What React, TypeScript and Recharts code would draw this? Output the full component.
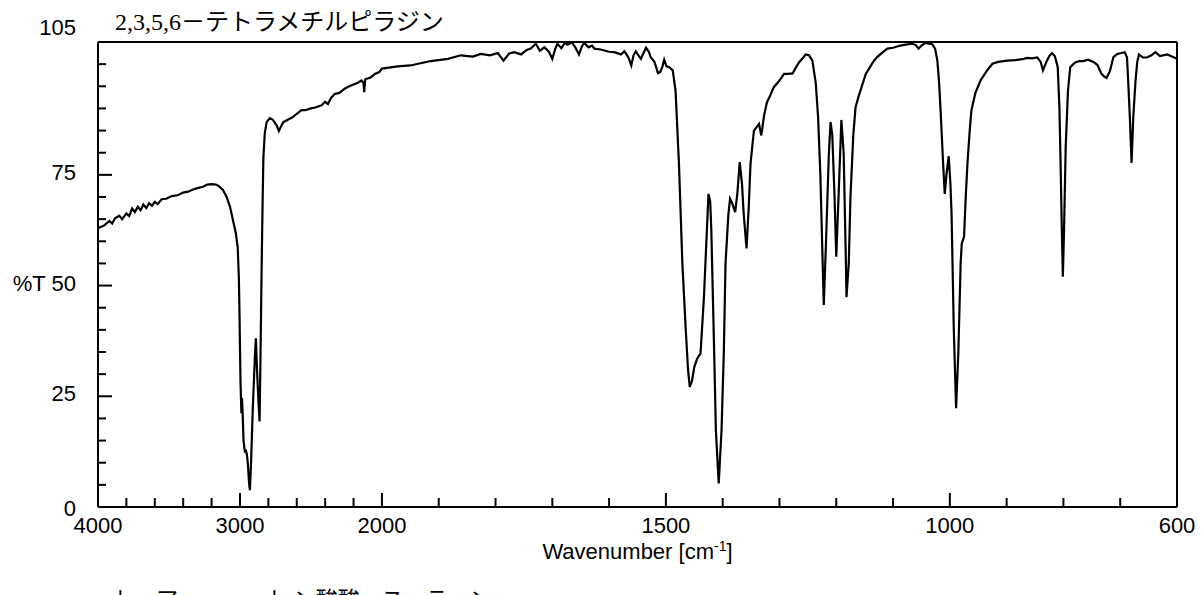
import React from "react";
import { LineChart, Line, XAxis, YAxis, ReferenceLine } from "recharts";

// 4000-2000 cm-1 (compressed part of the axis)
const wnHigh = [
  4000, 3960, 3920, 3900, 3880, 3850, 3830, 3800, 3780, 3760,
  3740, 3720, 3700, 3680, 3660, 3640, 3620, 3600, 3580, 3552,
  3520, 3480, 3440, 3400, 3366, 3330, 3300, 3260, 3230, 3200,
  3170, 3150, 3120, 3094, 3070, 3049, 3030, 3016, 3008, 3004,
  3000, 2996, 2990, 2986, 2982, 2975, 2965, 2960, 2952, 2945,
  2935, 2930, 2922, 2910, 2895, 2888, 2880, 2870, 2862, 2855,
  2848, 2840, 2835, 2825, 2812, 2790, 2770, 2755, 2742, 2726,
  2710, 2695, 2660, 2630, 2600, 2566, 2540, 2500, 2470, 2425,
  2400, 2380, 2360, 2331, 2300, 2260, 2230, 2200, 2170, 2144,
  2130, 2125, 2118, 2080, 2050, 2019,
];
const tHigh = [
  63.0, 63.5, 64.6, 64.0, 65.2, 65.8, 65.0, 66.3, 65.7, 67.4,
  66.6, 67.8, 67.0, 68.3, 67.5, 68.6, 68.0, 68.9, 68.4, 69.5,
  69.6, 70.2, 70.4, 71.0, 71.2, 71.7, 72.0, 72.3, 72.8, 72.9,
  72.8, 72.5, 71.6, 70.0, 67.8, 64.7, 62.0, 58.7, 52.0, 45.0,
  36.0, 28.0, 21.2, 24.6, 22.0, 15.0, 12.3, 13.0, 12.0, 10.0,
  5.0, 3.8, 10.0, 22.0, 34.0, 38.1, 31.0, 24.0, 19.3, 35.0,
  52.8, 70.0, 79.0, 84.5, 86.9, 87.8, 87.5, 86.8, 86.2, 84.9,
  86.0, 86.9, 87.5, 88.0, 88.8, 89.6, 89.6, 90.0, 90.2, 90.7,
  91.5, 91.0, 92.3, 93.3, 93.5, 94.5, 95.0, 95.4, 95.8, 96.3,
  95.8, 93.7, 96.6, 97.0, 97.8, 98.2,
];

// 2000-1488 cm-1
const wnMid = [
  2000, 1972, 1950, 1914, 1884, 1861, 1840, 1826, 1810, 1796,
  1786, 1776, 1767, 1755, 1745, 1738, 1729, 1722, 1714, 1706,
  1700, 1695, 1691, 1684, 1678, 1673, 1666, 1660, 1653, 1648,
  1644, 1636, 1630, 1626, 1615, 1600, 1591, 1579, 1573, 1566,
  1561, 1557, 1553, 1548, 1544, 1539, 1535, 1530, 1527, 1520,
  1514, 1510, 1506, 1503, 1499, 1494, 1488,
];
const tMid = [
  99.0, 99.5, 99.7, 100.7, 101.2, 102.0, 101.7, 102.3, 102.0, 102.5,
  100.8, 102.4, 102.7, 102.2, 103.2, 103.5, 104.6, 103.0, 103.8, 102.8,
  101.2, 103.4, 104.6, 103.6, 104.8, 104.4, 104.9, 103.9, 102.2, 104.0,
  104.8, 103.8, 104.2, 103.5, 103.3, 102.8, 102.7, 102.2, 102.9, 101.5,
  99.7, 102.0, 102.9, 101.9, 101.2, 102.6, 103.7, 102.8, 101.6, 100.5,
  98.0, 98.2, 99.5, 101.0, 99.5, 99.3, 98.6,
];

// 1483-600 cm-1 (fingerprint)
const wnLow = [
  1483, 1477, 1471, 1465, 1461, 1458, 1454, 1450, 1445, 1439,
  1433, 1428, 1425, 1422, 1420, 1415, 1412, 1407, 1402, 1398,
  1395, 1390, 1387, 1383, 1378, 1374, 1370, 1366, 1363, 1358,
  1354, 1351, 1345, 1336, 1332, 1327, 1322, 1316, 1310, 1300,
  1292, 1285, 1277, 1270, 1265, 1258, 1254, 1248, 1242, 1236,
  1232, 1228, 1222, 1218, 1213, 1210, 1207, 1203, 1200, 1196,
  1191, 1187, 1183, 1182, 1178, 1175, 1170, 1166, 1160, 1148,
  1135, 1128, 1120, 1110, 1100, 1087, 1078, 1066, 1060, 1055,
  1050, 1043, 1031, 1026, 1022, 1019, 1016, 1012, 1009, 1006,
  1002, 999, 997, 993, 989, 985, 981, 979, 975, 972,
  969, 965, 962, 955, 946, 935, 925, 915, 899, 885,
  870, 864, 855, 846, 840, 836, 830, 825, 820, 815,
  810, 807, 805, 803, 801, 799, 796, 792, 788, 780,
  772, 765, 757, 747, 740, 733, 728, 724, 718, 712,
  705, 692, 688, 686, 683, 680, 677, 673, 670, 667,
  660, 653, 645, 638, 630, 617, 610, 600,
];
const tLow = [
  94.0, 77.5, 55.0, 39.9, 31.0, 27.1, 28.5, 31.6, 33.5, 34.7,
  47.4, 62.0, 70.7, 69.0, 62.5, 35.0, 17.4, 5.3, 17.4, 35.0,
  55.0, 66.0, 69.6, 68.5, 66.6, 71.0, 77.9, 73.0, 66.2, 58.4,
  68.0, 77.5, 85.0, 86.5, 83.9, 88.5, 91.4, 93.0, 94.8, 96.3,
  97.8, 97.8, 97.9, 99.5, 100.5, 101.5, 102.2, 102.0, 100.8, 95.6,
  88.0, 75.0, 45.6, 60.0, 80.0, 86.9, 84.0, 70.0, 56.5, 70.0,
  87.4, 80.0, 55.0, 47.4, 55.0, 70.0, 84.0, 90.3, 93.0, 97.8,
  100.5, 101.6, 102.5, 103.5, 103.7, 104.2, 104.4, 104.6, 104.3, 103.5,
  104.2, 104.8, 104.5, 103.5, 100.8, 96.0, 88.8, 78.0, 70.7, 75.0,
  79.2, 73.0, 66.3, 39.9, 22.3, 35.0, 55.0, 59.5, 61.0, 70.0,
  77.5, 85.0, 89.6, 93.5, 96.3, 98.5, 100.1, 100.5, 100.8, 100.9,
  101.2, 101.4, 101.3, 101.5, 100.5, 98.6, 100.5, 101.8, 102.5, 101.8,
  99.3, 90.0, 77.6, 64.0, 52.0, 62.0, 81.3, 94.0, 99.3, 100.3,
  100.7, 100.7, 101.0, 100.5, 99.8, 97.8, 97.2, 96.9, 98.5, 101.6,
  102.3, 102.7, 101.5, 96.3, 88.0, 77.7, 88.0, 96.3, 100.5, 102.2,
  101.5, 101.5, 102.0, 102.7, 101.8, 102.2, 101.8, 101.2,
];

const majorX = [4000, 3000, 2000, 1500, 1000, 600];
const minorX = [
  3800, 3600, 3400, 3200, 2800, 2600, 2400, 2200,
  1900, 1800, 1700, 1600, 1400, 1300, 1200, 1100, 900, 800, 700,
];
const yTicks = [0, 5, 10, 15, 20, 25, 30, 35, 40, 45, 50, 55, 60, 65, 70, 75, 80, 85, 90, 95, 100, 105];
const yLabels = [0, 25, 50, 75, 105];

// axis is 4x compressed above 2000 cm-1
const toAxis = (w: number) => (w >= 2000 ? (4000 - w) / 4 : 500 + (2000 - w));

const wn = [...wnHigh, ...wnMid, ...wnLow];
const tr = [...tHigh, ...tMid, ...tLow];
const data = wn.map((w, i) => ({ u: toAxis(w), t: tr[i] }));

const axisTicksX = [...majorX, ...minorX].map(toAxis).sort((a, b) => a - b);
const labelFor = new Map(majorX.map((w) => [toAxis(w), w]));

const SANS = '"Liberation Sans", Arial, sans-serif';

const XTick = (props: any) => {
  const { x, y, payload } = props;
  const w = labelFor.get(payload.value);
  const major = w !== undefined;
  return (
    <g>
      <line x1={x} y1={y} x2={x} y2={y - (major ? 14 : 9)} stroke="#000" strokeWidth={2} />
      {major && (
        <text x={x} y={y + 26} textAnchor="middle" fontSize={22} fontFamily={SANS} fill="#000">
          {w}
        </text>
      )}
    </g>
  );
};

const YTick = (props: any) => {
  const { x, y, payload } = props;
  const v = payload.value;
  const labelled = yLabels.includes(v);
  const edge = v === 0 || v === 105;
  const dy = v === 105 ? -7 : v === 0 ? 9 : 5;
  return (
    <g>
      {!edge && (
        <line x1={x} y1={y} x2={x + (labelled ? 14 : 8)} y2={y} stroke="#000" strokeWidth={2} />
      )}
      {labelled && (
        <text x={x - 22} y={y + dy} textAnchor="end" fontSize={22} fontFamily={SANS} fill="#000">
          {v === 50 ? "%T 50" : v}
        </text>
      )}
    </g>
  );
};

export default function App() {
  return (
    <div style={{ position: "relative", width: 1195, height: 587, overflow: "hidden", background: "#fff" }}>
      <div
        style={{
          position: "absolute",
          left: 107,
          top: 2,
          fontSize: 24,
          lineHeight: "24px",
          fontFamily: '"Liberation Serif", "Noto Sans CJK JP", serif',
          whiteSpace: "nowrap",
        }}
      >
        2,3,5,6－テトラメチルピラジン
      </div>
      <LineChart width={1195} height={587} data={data} margin={{ top: 34, right: 26, bottom: 58, left: 30 }}>
        <XAxis
          dataKey="u"
          type="number"
          domain={[0, 1900]}
          ticks={axisTicksX}
          interval={0}
          tickSize={0}
          tickMargin={0}
          tickLine={false}
          tick={<XTick />}
          axisLine={{ stroke: "#000", strokeWidth: 2 }}
          height={30}
        />
        <YAxis
          type="number"
          domain={[0, 105]}
          ticks={yTicks}
          interval={0}
          tickSize={0}
          tickMargin={0}
          tickLine={false}
          tick={<YTick />}
          axisLine={{ stroke: "#000", strokeWidth: 2 }}
          width={60}
        />
        <ReferenceLine y={105} stroke="#000" strokeWidth={2} />
        <ReferenceLine x={1900} stroke="#000" strokeWidth={2} />
        <Line
          dataKey="t"
          type="linear"
          stroke="#000"
          strokeWidth={2.2}
          dot={false}
          activeDot={false}
          isAnimationActive={false}
        />
      </LineChart>
      <div
        style={{
          position: "absolute",
          left: 90,
          width: 1079,
          top: 527,
          textAlign: "center",
          fontSize: 22,
          lineHeight: "22px",
          fontFamily: SANS,
        }}
      >
        Wavenumber [cm<sup style={{ fontSize: 14 }}>-1</sup>]
      </div>
      <div
        style={{
          position: "absolute",
          left: 104,
          top: 581,
          fontSize: 22,
          lineHeight: "22px",
          fontFamily: '"Liberation Serif", "Noto Sans CJK JP", serif',
          whiteSpace: "nowrap",
          letterSpacing: 0,
        }}
      >
        ト　ア　　　　ト ン酸酸　ス　ラ　ン
      </div>
    </div>
  );
}
